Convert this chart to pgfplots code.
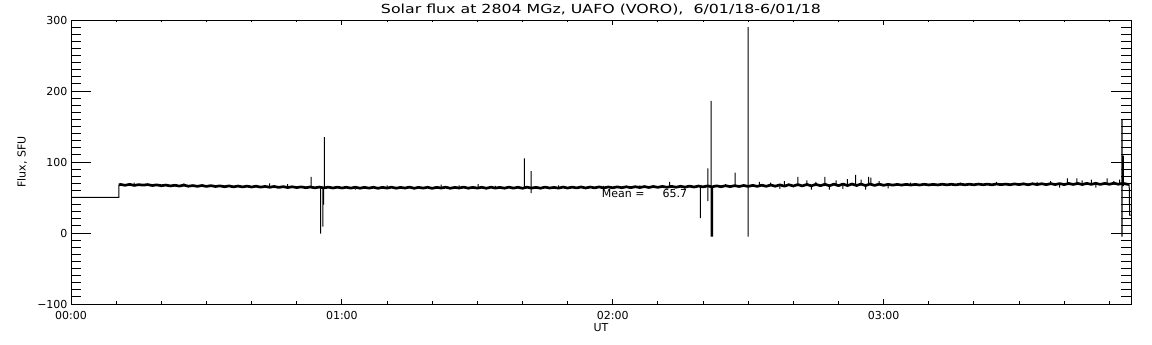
\documentclass[border=0pt]{standalone}
\usepackage{fontspec}
\setmainfont{DejaVu Sans}
\usepackage{graphicx}
\usepackage{pgfplots}
\pgfplotsset{compat=1.18}
\begin{document}
\begin{tikzpicture}
% ---------- axis 1: data, x ticks, title, labels ----------
\begin{axis}[
  at={(71pt,41pt)}, anchor=south west,
  scale only axis, width=1060pt, height=284pt,
  xmin=0, xmax=234.8, ymin=-100, ymax=300,
  xtick={0,60,120,180}, xticklabels={00:00,01:00,02:00,03:00},
  minor xtick={10,20,30,40,50,70,80,90,100,110,130,140,150,160,170,190,200,210,220,230},
  ytick=\empty,
  tick align=inside, xtick pos=both,
  major tick length=5pt, minor tick length=2.5pt,
  axis line style={black, line width=0.9pt},
  every tick/.style={black, line width=0.9pt},
  xticklabel style={font=\fontsize{11}{13}\selectfont, anchor=base, yshift=-16pt},
  xlabel={UT},
  xlabel style={font=\fontsize{11}{13}\selectfont, at={(axis description cs:0.5,-0.083)}, anchor=center},
  unbounded coords=jump,
  clip mode=individual,
]
% noise band (dense 1-s sampling rendered as a thick trace)
\addplot[black, line width=2.7pt, line join=round] coordinates {
(10.6,68) (11,68.3) (12,67.2) (13,68.5) (14,67.0) (15,68.1) (16,67.4) (17,68.2) (18,66.9) (19,67.8) (20,66.6)
(21,67.5) (22,66.3) (23,67.2) (24,66.1) (25,67.4) (26,65.9) (27,66.8) (28,65.7) (29,66.9) (30,65.6)
(31,66.7) (32,65.5) (33,66.4) (34,65.2) (35,66.3) (36,65.0) (37,66.1) (38,64.9) (39,66.0) (40,64.8)
(41,65.9) (42,64.6) (43,65.6) (44,64.4) (45,65.5) (46,64.2) (47,65.3) (48,64.0) (49,65.1) (50,64.0)
(51,65.0) (52,63.8) (53,64.8) (54,63.6) (55,64.7) (56,63.5) (57,64.6) (58,63.4) (59,64.5) (60,63.4)
(61,64.4) (62,63.2) (63,64.5) (64,63.1) (65,64.3) (66,63.2) (67,64.4) (68,63.0) (69,64.3) (70,63.2)
(71,64.5) (72,63.1) (73,64.2) (74,63.3) (75,64.6) (76,63.0) (77,64.3) (78,63.2) (79,64.4) (80,62.9)
(81,64.3) (82,63.3) (83,64.5) (84,63.0) (85,64.2) (86,63.4) (87,64.6) (88,63.1) (89,64.3) (90,63.2)
(91,64.4) (92,63.0) (93,64.5) (94,63.3) (95,64.2) (96,63.1) (97,64.6) (98,63.2) (99,64.4) (100,63.0)
(101,64.5) (102,63.3) (103,64.3) (104,63.1) (105,64.6) (106,63.4) (107,64.2) (108,63.2) (109,64.7) (110,63.3)
(111,64.6) (112,63.5) (113,64.8) (114,63.4) (115,64.7) (116,63.6) (117,64.9) (118,63.5) (119,64.8) (120,63.7)
(121,65.0) (122,63.8) (123,65.1) (124,63.9) (125,65.2) (126,64.0) (127,65.4) (128,64.1) (129,65.5) (130,64.3)
(131,65.6) (132,64.4) (133,65.7) (134,64.5) (135,65.8) (136,64.6) (137,66.0) (138,64.8) (139,66.1) (140,64.9)
(141,66.3) (142,65.0) (143,66.4) (144,65.2) (145,66.6) (146,65.3) (147,66.7) (148,65.5) (149,66.9) (150,65.6)
(151,67.1) (152,65.7) (153,67.3) (154,65.8) (155,67.6) (156,65.9) (157,67.8) (158,66.0) (159,68.0) (160,66.2)
(161,68.2) (162,66.3) (163,68.4) (164,66.4) (165,68.5) (166,66.6) (167,68.7) (168,66.5) (169,68.8) (170,66.7)
(171,68.9) (172,66.8) (173,69.0) (174,66.9) (175,68.9) (176,66.8) (177,69.0) (178,67.0) (179,68.8) (180,67.2)
(181,68.5) (182,67.4) (183,68.4) (184,67.5) (185,68.5) (186,67.6) (187,68.4) (188,67.6) (189,68.6) (190,67.7)
(191,68.5) (192,67.7) (193,68.7) (194,67.8) (195,68.6) (196,67.8) (197,68.8) (198,67.9) (199,68.7) (200,67.9)
(201,68.9) (202,68.0) (203,68.8) (204,67.9) (205,69.0) (206,68.1) (207,68.9) (208,68.0) (209,69.1) (210,68.2)
(211,69.2) (212,68.0) (213,69.3) (214,68.2) (215,69.4) (216,68.1) (217,69.5) (218,68.3) (219,69.6) (220,68.2)
(221,69.7) (222,68.4) (223,69.8) (224,68.3) (225,69.9) (226,68.5) (227,70.0) (228,68.4) (229,69.9) (230,68.6)
(231,70.1) (232,68.7) (233,70.0) (234,68.6) (234.4,68.4)
};
% thin parts: pre-start level, end drop and the single-sample spikes
\addplot[black, line width=1pt] coordinates {
(0,50) (10.6,50) (10.6,68) (nan,nan)
(234.4,68.4) (234.5,25) (234.8,25) (nan,nan)
(14,67) (14,71) (nan,nan) (25,66) (25,70) (nan,nan) (44,64) (44,70) (nan,nan) (48,64) (48,69) (nan,nan)
(53.2,64) (53.2,79) (nan,nan)
(55.3,64) (55.3,-1) (nan,nan)
(55.8,64) (55.8,9) (nan,nan)
(55.95,64) (55.95,40) (nan,nan)
(56.1,62) (56.1,135) (nan,nan)
(63,63) (63,61) (nan,nan) (70,63) (70,67) (nan,nan) (82,63) (82,68) (nan,nan) (86,63) (86,67) (nan,nan) (90.2,63) (90.2,69) (nan,nan)
(94,63) (94,66.5) (nan,nan)
(100.4,64) (100.4,105) (nan,nan)
(101.9,56) (101.9,87) (nan,nan)
(108,64) (108,67) (nan,nan) (118,64) (118,66.5) (nan,nan) (126,64) (126,67) (nan,nan)
(132.6,64) (132.6,72) (nan,nan)
(136,65) (136,62) (nan,nan)
(139.4,65) (139.4,21) (nan,nan)
(141.1,45) (141.1,91) (nan,nan)
(141.8,-5) (141.8,186) (nan,nan)
(141.95,-5) (141.95,65) (nan,nan)
(142.1,-5) (142.1,65) (nan,nan)
(145,65) (145,69) (nan,nan)
(147.1,65) (147.1,85) (nan,nan)
(150.0,-5) (150.0,290) (nan,nan)
(152.5,66) (152.5,72) (nan,nan) (155,66) (155,71) (nan,nan) (157,66) (157,62) (nan,nan) (158,66) (158,73) (nan,nan)
(161,66) (161,79) (nan,nan) (163,66) (163,74) (nan,nan) (164,66) (164,61) (nan,nan) (165,66) (165,72) (nan,nan)
(167,66) (167,79) (nan,nan) (168,66) (168,61) (nan,nan) (169.5,66) (169.5,74) (nan,nan) (171,67) (171,62) (nan,nan)
(172,67) (172,76) (nan,nan) (173.8,67) (173.8,82) (nan,nan) (175,67) (175,75) (nan,nan) (176,67) (176,61) (nan,nan)
(176.7,67) (176.7,79) (nan,nan) (177.2,67) (177.2,78) (nan,nan) (179,67) (179,73) (nan,nan) (181,67) (181,63) (nan,nan)
(186,67) (186,71) (nan,nan) (197,67) (197,71) (nan,nan) (205,68) (205,72) (nan,nan)
(211,68) (211,71) (nan,nan) (214,68) (214,72) (nan,nan) (217,68) (217,73) (nan,nan) (219,68) (219,64) (nan,nan)
(220.7,68) (220.7,77) (nan,nan) (222.8,68) (222.8,77) (nan,nan) (224,68) (224,74) (nan,nan) (226,68) (226,75) (nan,nan)
(227,68) (227,64) (nan,nan) (229.5,68) (229.5,77) (nan,nan) (231,68) (231,73) (nan,nan) (232.3,69) (232.3,75) (nan,nan)
(232.75,-5) (232.75,160) (nan,nan)
(232.85,-5) (232.85,160) (nan,nan)
(233.1,66) (233.1,109) (nan,nan)
};
\node[anchor=base west, font=\fontsize{11}{13}\selectfont] at (axis cs:116.8,50) {Mean =\hspace{18pt}65.7};
\node[anchor=base, font=\fontsize{12.5}{14}\selectfont] at (axis description cs:0.5,1.0236)
  {\resizebox{440pt}{\height}{Solar flux at 2804 MGz, UAFO (VORO),\ \ 6/01/18-6/01/18}};
\end{axis}
% ---------- axis 2: y ticks and y label ----------
\begin{axis}[
  at={(71pt,41pt)}, anchor=south west,
  scale only axis, width=1060pt, height=284pt,
  xmin=0, xmax=234.8, ymin=-100, ymax=300,
  xtick=\empty,
  ytick={-100,0,100,200,300}, yticklabels={−100,0,100,200,300},
  minor ytick={-90,-80,-70,-60,-50,-40,-30,-20,-10,10,20,30,40,50,60,70,80,90,110,120,130,140,150,160,170,180,190,210,220,230,240,250,260,270,280,290},
  tick align=inside, ytick pos=both,
  major tick length=20pt, minor tick length=10pt,
  axis line style={black, line width=0.9pt},
  every tick/.style={black, line width=0.9pt},
  yticklabel style={font=\fontsize{11}{13}\selectfont},
  ylabel={Flux, SFU},
  ylabel style={font=\fontsize{11}{13}\selectfont, at={(axis description cs:-0.0462,0.5)}, anchor=center},
]
\end{axis}
\pgfresetboundingbox
\path[use as bounding box] (0,0) rectangle (1152pt,345pt);
\end{tikzpicture}
\end{document}
